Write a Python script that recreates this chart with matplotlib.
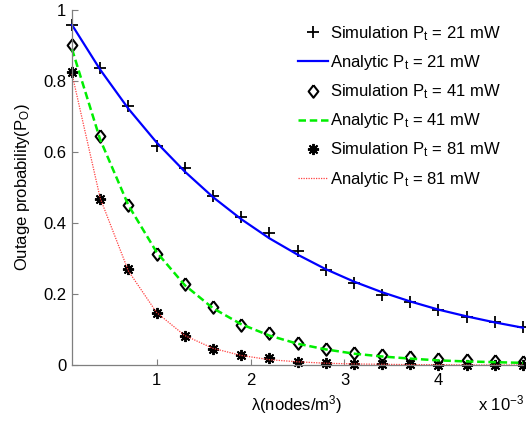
import matplotlib
matplotlib.use("Agg")
import matplotlib.pyplot as plt

plt.rcParams['font.family'] = ['Liberation Sans', 'DejaVu Sans']
plt.rcParams['mathtext.fontset'] = 'custom'
plt.rcParams['mathtext.rm'] = 'Liberation Sans'
plt.rcParams['mathtext.it'] = 'Liberation Sans'

# node density lambda, in units of 1e-3 nodes/m^3
lam = [0.1, 0.4, 0.7, 1.0, 1.3, 1.6, 1.9, 2.2, 2.5, 2.8, 3.1, 3.4, 3.7, 4.0, 4.3, 4.6, 4.9]

sim_21 = [0.958, 0.837, 0.730, 0.618, 0.556, 0.476, 0.418, 0.372, 0.322, 0.268, 0.230,
          0.197, 0.178, 0.155, 0.134, 0.120, 0.107]
ana_21 = [0.958, 0.832, 0.722, 0.627, 0.545, 0.473, 0.411, 0.357, 0.311, 0.270, 0.235,
          0.205, 0.179, 0.156, 0.137, 0.120, 0.105]

sim_41 = [0.901, 0.645, 0.451, 0.313, 0.227, 0.164, 0.113, 0.089, 0.061, 0.045, 0.033,
          0.027, 0.022, 0.018, 0.014, 0.011, 0.009]
ana_41 = [0.890, 0.635, 0.450, 0.318, 0.225, 0.160, 0.115, 0.083, 0.060, 0.044, 0.032,
          0.024, 0.018, 0.013, 0.010, 0.008, 0.006]

sim_81 = [0.826, 0.469, 0.270, 0.146, 0.082, 0.044, 0.028, 0.019, 0.008, 0.005, 0.003,
          0.002, 0.002, 0.001, 0.001, 0.001, 0.001]
ana_81 = [0.820, 0.470, 0.265, 0.148, 0.083, 0.047, 0.027, 0.015, 0.009, 0.005, 0.003,
          0.002, 0.001, 0.001, 0.000, 0.000, 0.000]

x_ticks = [1, 2, 3, 4]
y_ticks = [0, 0.2, 0.4, 0.6, 0.8, 1]
y_ticklabels = ['0', '0.2', '0.4', '0.6', '0.8', '1']

W, H = 526, 423
fig = plt.figure(figsize=(W / 100, H / 100), dpi=100)
ax = fig.add_axes([72 / W, 1 - 365 / H, (523 - 72) / W, (365 - 10) / H])

fs = 12
# open diamond, a little wider than matplotlib's thin diamond
diamond = [(0, 1), (0.78, 0), (0, -1), (-0.78, 0), (0, 1)]

mk = dict(color='black', linestyle='none', clip_on=False)
h1 = ax.plot(lam, sim_21, marker='+', markersize=9, markeredgewidth=1.3, **mk)[0]
h3 = ax.plot(lam, sim_41, marker=diamond, markersize=9, markeredgewidth=1.5,
             markerfacecolor='none', **mk)[0]
h5 = ax.plot(lam, sim_81, marker=(8, 2, 0), markersize=8, markeredgewidth=1.4, **mk)[0]

h2 = ax.plot(lam, ana_21, color='#0000ff', linewidth=1.6, clip_on=False)[0]
h4 = ax.plot(lam, ana_41, color='#00ee00', linewidth=1.8, linestyle=(0, (3, 1.5)),
             clip_on=False)[0]
h6 = ax.plot(lam, ana_81, color='#ff4040', linewidth=0.9, linestyle=(0, (1, 1)),
             clip_on=False)[0]

ax.set_xlim(0.1, 4.9)
ax.set_ylim(0, 1)
ax.set_xticks(x_ticks)
ax.set_yticks(y_ticks)
ax.set_yticklabels(y_ticklabels)

for side in ['top', 'right']:
    ax.spines[side].set_visible(False)
for side in ['left', 'bottom']:
    ax.spines[side].set_color('#7f7f7f')
    ax.spines[side].set_linewidth(0.9)
ax.tick_params(direction='in', length=4, width=0.8, color='#7f7f7f',
               labelsize=fs, labelcolor='black')
ax.tick_params(axis='x', pad=6)
ax.tick_params(axis='y', pad=4)

ax.set_ylabel('Outage probability(P$_\\mathregular{O}$)', fontsize=fs, labelpad=8)
fig.text(297 / W, 1 - 410 / H, 'λ(nodes/m$^\\mathregular{3}$)', fontsize=fs,
         ha='center', va='baseline')
fig.text(478 / W, 1 - 410 / H, 'x 10$^\\mathregular{-3}$', fontsize=fs,
         ha='left', va='baseline')

labels = ['Simulation P$_\\mathregular{t}$ = 21 mW', 'Analytic P$_\\mathregular{t}$ = 21 mW',
          'Simulation P$_\\mathregular{t}$ = 41 mW', 'Analytic P$_\\mathregular{t}$ = 41 mW',
          'Simulation P$_\\mathregular{t}$ = 81 mW', 'Analytic P$_\\mathregular{t}$ = 81 mW']
leg = fig.legend([h1, h2, h3, h4, h5, h6], labels, loc='upper left',
                 bbox_to_anchor=(298 / W, 1 - 24 / H), frameon=False, fontsize=fs,
                 numpoints=1, handlelength=1.8, handletextpad=0.1,
                 borderpad=0, borderaxespad=0, labelspacing=0.62)

fig.savefig('out.png', dpi=100)
